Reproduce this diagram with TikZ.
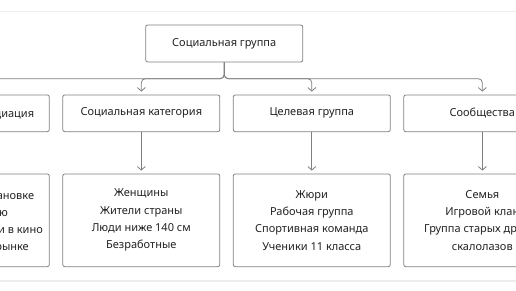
\documentclass[tikz,border=0pt]{standalone}
\usepackage{fontspec}
\setmainfont{Noto Sans}
\usetikzlibrary{arrows.meta}
\definecolor{boxline}{HTML}{808080}
\definecolor{txt}{HTML}{222222}
\definecolor{rule}{HTML}{EDEDED}
\tikzset{
  box/.style={draw=boxline, line width=0.8pt, rounded corners=2pt, minimum width=157pt, inner sep=0pt, text=txt, font=\fontsize{11}{17.3}\selectfont, align=center},
  headbox/.style={box, minimum height=37pt},
  catbox/.style={box, minimum height=36.7pt},
  exbox/.style={box, minimum height=92.7pt},
  conn/.style={draw=boxline, line width=0.8pt, rounded corners=4pt, -{Straight Barb[length=3.5pt,width=8pt]}},
  frag/.style={text=txt, font=\fontsize{11}{17.3}\selectfont, inner sep=0pt, anchor=base east}
}
\begin{document}
\begin{tikzpicture}[x=1pt,y=-1pt]
\useasboundingbox (0,0) rectangle (516,290);
\clip (0,0) rectangle (516,290);
\draw[rule, line width=1.5pt] (0,11.5) -- (516,11.5);
\draw[rule, line width=1.5pt] (0,281) -- (516,281);

\node[headbox] (top) at (224.2,43.5) {Социальная группа};

\node[catbox] (c0) at (-29.2,113.3) {};
\node[catbox] (c1) at (141.3,113.3) {Социальная категория};
\node[catbox] (c2) at (311.8,113.3) {Целевая группа};
\node[catbox] (c3) at (482.3,113.3) {Сообщества};

\node[exbox] (e0) at (-29.2,220.3) {};
\node[frag] (f0) at (34.3,117.3) {Медиация};
\node[frag] (f1) at (34.3,199) {Пассажиры на остановке};
\node[frag] (f2) at (8,216.5) {Очередь в столовую};
\node[frag] (f3) at (43,233.5) {Зрители в кино};
\node[frag] (f4) at (29,250.8) {Покупатели на рынке};

\node[exbox] (e1) at (141.3,220.3) {Женщины\\Жители страны\\Люди ниже 140 см\\Безработные};
\node[exbox] (e2) at (311.8,220.3) {Жюри\\Рабочая группа\\Спортивная команда\\Ученики 11 класса};
\node[exbox] (e3) at (482.3,220.3) {Семья\\Игровой клан\\Группа старых друзей\\скалолазов};

\coordinate (j) at (224.2,78.7);
\foreach \c in {c0,c1,c2,c3}{
  \draw[conn, shorten >=3pt] (top.south) -- (j) -- (j -| \c.north) -- (\c.north);
}
\foreach \a/\b in {c0/e0,c1/e1,c2/e2,c3/e3}{
  \draw[conn, shorten >=3pt] (\a.south) -- (\b.north);
}
\end{tikzpicture}
\end{document}
